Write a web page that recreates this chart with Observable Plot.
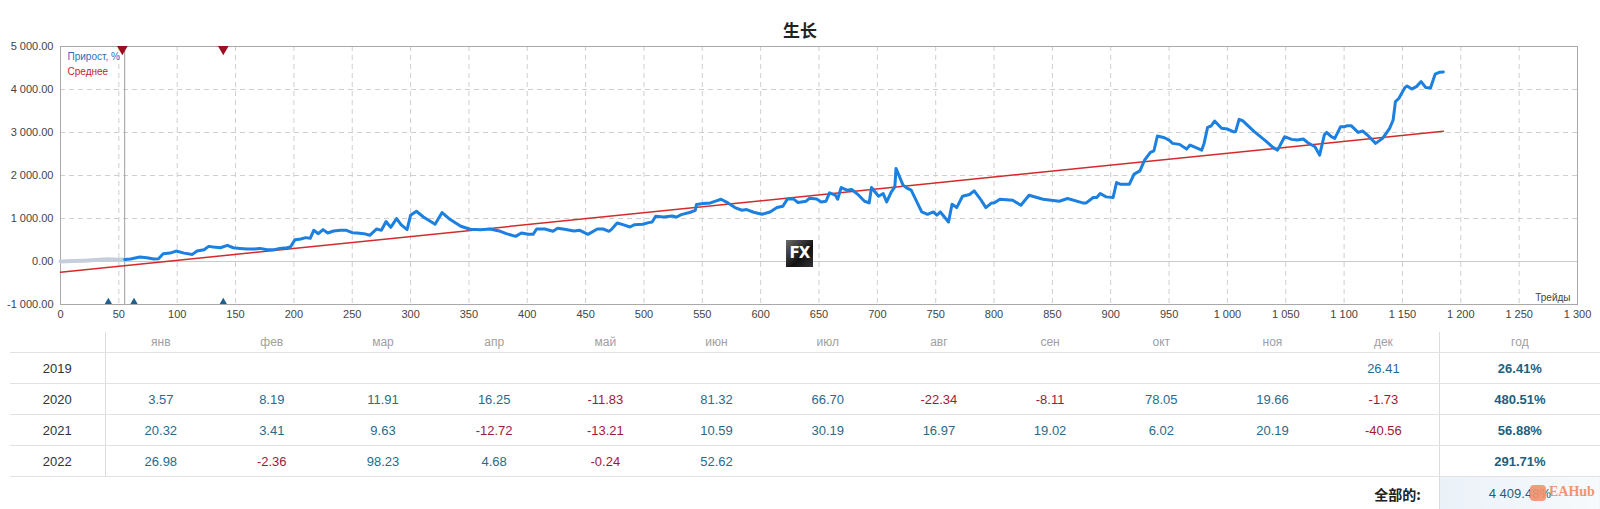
<!DOCTYPE html>
<html><head><meta charset="utf-8">
<script src="https://cdn.jsdelivr.net/npm/d3@7"></script>
<script src="https://cdn.jsdelivr.net/npm/@observablehq/plot@0.6"></script>
<style>
body{margin:0;background:#fff;width:1600px;height:509px;overflow:hidden;position:relative;font-family:"Liberation Sans",Arial,sans-serif;}
#title{position:absolute;left:0;top:19px;width:1600px;text-align:center;font:bold 17px "Noto Sans CJK SC",sans-serif;line-height:22px;color:#222}
#chart{position:absolute;left:0;top:30px}
#fx{position:absolute;left:786px;top:240px;width:27px;height:27px;background:linear-gradient(135deg,#6a6a6a,#111 60%,#333);color:#fff;font:bold 15px "DejaVu Sans",sans-serif;line-height:27px;text-align:center;letter-spacing:-1px}
#tbl{position:absolute;left:10px;top:332px;border-collapse:collapse;table-layout:fixed;width:1590px}
#tbl td{padding:0;text-align:center;font-size:13px;white-space:nowrap}
#tbl tr.hd td{height:20px;color:#a0a0a0;font-size:12px;border-bottom:1px solid #e2e2e2}
#tbl tr.rw td{height:30px;border-bottom:1px solid #e2e2e2}
#tbl td.yr{color:#333;border-right:1px solid #dcdcdc}
#tbl td.tot{border-left:1px solid #dcdcdc;color:#1d5f80;font-weight:bold}
#tbl td.pos{color:#2a6a8c}
#tbl td.neg{color:#a3163c}
#tbl tr.ft td{height:33px}
#tbl td.ftl{text-align:right;padding-right:18px;font:bold 14px "Noto Sans CJK SC",sans-serif;color:#222}
#tbl td.ftv{border-left:1px solid #dcdcdc;background:linear-gradient(90deg,#eaf1f8,#f7fafc);color:#1d5f80}
#eah{position:absolute;left:1530px;top:485px;width:16px;height:16px;border-radius:4px;background:#f3906c;opacity:.9}
#eat{position:absolute;left:1549px;top:484px;font:bold 14px "Liberation Serif",serif;color:#f08a64;opacity:.9}
</style></head>
<body>
<div id="title">生长</div>
<div id="chart"></div>
<div id="fx">FX</div>
<table id="tbl"></table>
<div id="eah"></div><div id="eat">EAHub</div>
<script>
// ---- chart data ----
const xTicks = [0,50,100,150,200,250,300,350,400,450,500,550,600,650,700,750,800,850,900,950,1000,1050,1100,1150,1200,1250,1300];
const yTicks = [-1000,0,1000,2000,3000,4000,5000];

const fadedTrades = [0,10,20,30,40,50,55];
const fadedValues = [0,10,20,35,50,42,49];

const trades = [55,60,68,74,80,84,88,94,99,106,113,117,123,127,131,137,143,148,154,160,166,171,177,183,188,194,197,201,206,210,214,217,221,225,229,234,240,245,250,254,260,265,271,275,279,283,288,292,297,300,305,311,321,327,334,343,351,360,368,377,382,390,395,401,405,408,415,422,426,432,440,445,452,460,465,470,472,477,482,488,492,499,504,507,510,517,524,528,532,539,544,545,551,557,562,566,572,578,584,588,594,601,608,614,619,623,628,632,639,642,648,652,656,659,664,666,669,674,678,684,689,693,695,701,705,708,712,715,716,722,725,729,738,743,748,751,754,761,764,768,773,779,783,788,793,798,800,805,816,823,830,842,856,863,876,879,885,888,891,896,902,905,908,916,920,925,929,934,937,940,946,950,953,959,965,968,978,980,983,986,989,995,1000,1005,1007,1010,1013,1023,1033,1039,1043,1049,1055,1060,1065,1069,1075,1079,1083,1085,1089,1092,1097,1100,1103,1106,1112,1116,1120,1127,1133,1139,1142,1144,1147,1152,1154,1158,1162,1166,1170,1174,1178,1182,1185];
const growthValues = [49,60,103,88,56,63,180,195,243,195,165,243,274,352,336,320,375,320,305,290,290,305,274,274,305,320,336,508,523,555,540,725,647,741,663,710,725,725,670,663,647,609,757,725,930,795,998,850,741,1075,1168,1035,865,1138,975,819,749,741,756,702,648,585,662,632,632,756,756,702,772,749,710,725,632,756,756,702,741,896,857,802,857,865,904,920,1051,1035,1059,1035,1091,1138,1192,1324,1347,1362,1409,1448,1362,1254,1192,1208,1145,1098,1152,1254,1285,1456,1456,1371,1402,1472,1456,1386,1402,1596,1542,1448,1720,1658,1674,1542,1402,1363,1720,1518,1580,1386,1620,1736,2164,1775,1713,1658,1152,1098,1152,1075,1152,919,1331,1254,1518,1557,1642,1464,1254,1362,1362,1448,1425,1308,1542,1448,1402,1464,1362,1362,1487,1487,1580,1503,1487,1837,1798,1798,2031,2108,2358,2540,2575,2918,2878,2824,2747,2724,2614,2708,2591,2747,3120,3151,3267,3097,3081,3019,3019,3306,3275,3019,2801,2654,2591,2902,2840,2824,2848,2762,2669,2474,2941,3003,2902,2864,3135,3135,3159,3159,3003,3034,2941,2747,2864,3097,3290,3717,3796,4044,4083,4013,4067,4184,4044,4036,4356,4403,4409];

const avgTrades = [0,1185];
const avgValues = [-250,3030];

const cursorTrade = [55];
const topMarkers = [53,139.5];
const bottomMarkers = [41,63,139.5];

// ---- table data ----
const months = ["янв","фев","мар","апр","май","июн","июл","авг","сен","окт","ноя","дек"];
const years = ["2019","2020","2021","2022"];
const m2019 = [null,null,null,null,null,null,null,null,null,null,null,26.41];
const m2020 = [3.57,8.19,11.91,16.25,-11.83,81.32,66.70,-22.34,-8.11,78.05,19.66,-1.73];
const m2021 = [20.32,3.41,9.63,-12.72,-13.21,10.59,30.19,16.97,19.02,6.02,20.19,-40.56];
const m2022 = [26.98,-2.36,98.23,4.68,-0.24,52.62,null,null,null,null,null,null];
const yearTotals = [26.41,480.51,56.88,291.71];
const totalLabel = "全部的:";
const totalValue = 4409.48;
const yearHeader = "год";

const loc = d3.formatLocale({decimal:".", thousands:" ", grouping:[3], currency:["",""], minus:"-"});
const fmtX = loc.format(",d");
const fmtY = loc.format(",.2f");
const f2 = loc.format(".2f");

const growth = trades.map((t,i)=>({t, v:growthValues[i]}));
const faded = fadedTrades.map((t,i)=>({t, v:fadedValues[i]}));
const avg = avgTrades.map((t,i)=>({t, v:avgValues[i]}));

const chart = Plot.plot({
  width:1600, height:298, marginLeft:60, marginRight:23, marginTop:16, marginBottom:24,
  style:{fontFamily:"Liberation Sans, Arial, sans-serif", fontSize:"11px", color:"#333", background:"transparent", overflow:"visible"},
  x:{domain:[0,1300], label:null},
  y:{domain:[-1000,5000], label:null},
  marks:[
    Plot.ruleX(xTicks.filter(d=>d>0 && d<1300), {stroke:"#cfcfcf", strokeDasharray:"5,4"}),
    Plot.ruleY(yTicks.filter(d=>d>-1000 && d<5000 && d!==0), {stroke:"#cfcfcf", strokeDasharray:"5,4"}),
    Plot.ruleY([0], {stroke:"#cacaca"}),
    Plot.frame({stroke:"#a9a9a9"}),
    Plot.ruleX(cursorTrade, {stroke:"#9c9c9c"}),
    Plot.line(faded, {x:"t", y:"v", stroke:"#c5cfdc", strokeWidth:4}),
    Plot.line(avg, {x:"t", y:"v", stroke:"#d42a2a", strokeWidth:1.5}),
    Plot.line(growth, {x:"t", y:"v", stroke:"#1b80e0", strokeWidth:3, strokeLinejoin:"round"}),
    Plot.dot(topMarkers, {x:d=>d, y:()=>5000, symbol:"triangle", rotate:180, r:5, dy:1, fill:"#9a0f22", stroke:"none", clip:"frame"}),
    Plot.dot(bottomMarkers, {x:d=>d, y:()=>-1000, symbol:"triangle", r:5, dy:1, fill:"#1f5f8e", stroke:"none", clip:"frame"}),
    Plot.axisX({ticks:xTicks, tickSize:0, tickPadding:6, tickFormat:fmtX, fill:"#444"}),
    Plot.axisY({ticks:yTicks, tickSize:0, tickPadding:7, tickFormat:fmtY, fill:"#444"}),
    Plot.text(["Трейды"], {frameAnchor:"bottom-right", dx:-7, dy:-4, fill:"#444", fontSize:10}),
    Plot.text(["Прирост, %"], {frameAnchor:"top-left", dx:7, dy:6, fill:"#2d6fb6", fontSize:10}),
    Plot.text(["Среднее"], {frameAnchor:"top-left", dx:7, dy:21, fill:"#c4242a", fontSize:10})
  ]
});
document.getElementById("chart").append(chart);

// ---- table ----
const tbl = d3.select("#tbl");
const cg = tbl.append("colgroup");
cg.append("col").style("width","95px");
months.forEach(()=>cg.append("col").style("width","111.2px"));
cg.append("col").style("width","160.6px");
const hr = tbl.append("tr").attr("class","hd");
hr.append("td").attr("class","yr").style("border-bottom","1px solid #e2e2e2");
months.forEach(m=>hr.append("td").text(m));
hr.append("td").attr("class","tot").style("font-weight","normal").style("color","#a0a0a0").text(yearHeader);
const rows = [m2019,m2020,m2021,m2022];
rows.forEach((r,i)=>{
  const tr = tbl.append("tr").attr("class","rw");
  tr.append("td").attr("class","yr").text(years[i]);
  r.forEach(v=>{
    const td = tr.append("td");
    if(v!==null){ td.attr("class", v<0?"neg":"pos").text(f2(v)); }
  });
  tr.append("td").attr("class","tot").text(f2(yearTotals[i])+"%");
});
const ft = tbl.append("tr").attr("class","ft");
ft.append("td").attr("class","ftl").attr("colspan",13).text(totalLabel);
ft.append("td").attr("class","ftv").text(loc.format(",.2f")(totalValue)+"%");
</script>
</body></html>
